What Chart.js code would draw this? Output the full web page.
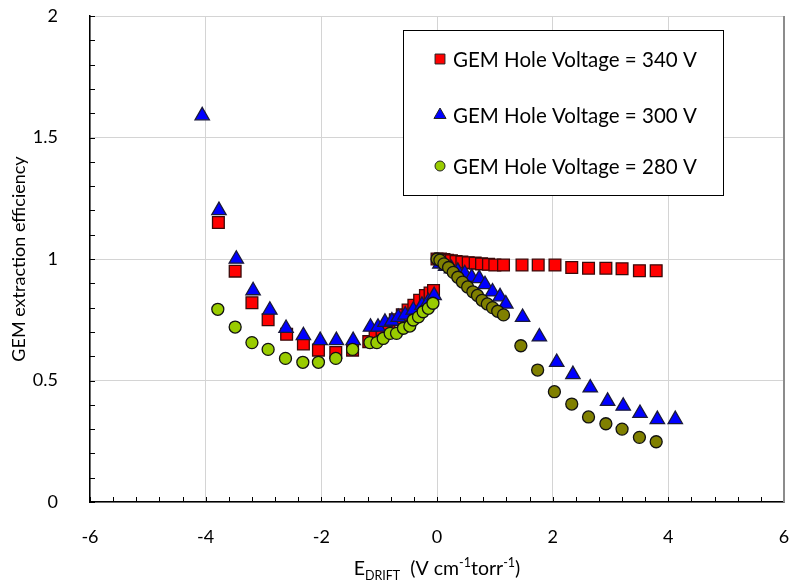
<!DOCTYPE html>
<html>
<head>
<meta charset="utf-8">
<script src="https://cdn.jsdelivr.net/npm/chart.js@4.4.1/dist/chart.umd.min.js"></script>
<style>
  html, body { margin: 0; padding: 0; background: #fff; }
  #wrap { width: 794px; height: 583px; position: relative; }
</style>
</head>
<body>
<div id="wrap"><canvas id="eff" width="794" height="583"></canvas></div>
<script>
// GEM hole voltage 340 V
const hv340X = [-3.78, -3.49, -3.20, -2.92, -2.60, -2.31, -2.05, -1.75, -1.46, -1.18, -1.07, -0.95, -0.83, -0.72, -0.60, -0.50, -0.40, -0.30, -0.20, -0.12, -0.06,
  0.00, 0.06, 0.12, 0.18, 0.25, 0.33, 0.43, 0.54, 0.66, 0.77, 0.89, 1.00, 1.15, 1.47, 1.75, 2.04, 2.33, 2.62, 2.92, 3.20, 3.50, 3.79];
const hv340Y = [1.15, 0.95, 0.82, 0.75, 0.69, 0.65, 0.625, 0.615, 0.625, 0.66, 0.69, 0.71, 0.73, 0.75, 0.77, 0.79, 0.81, 0.83, 0.85, 0.86, 0.87,
  1.0, 1.0, 0.998, 0.995, 0.993, 0.99, 0.988, 0.985, 0.983, 0.98, 0.978, 0.975, 0.975, 0.975, 0.975, 0.975, 0.965, 0.962, 0.962, 0.96, 0.952, 0.952];

// GEM hole voltage 300 V
const hv300X = [-4.06, -3.77, -3.47, -3.18, -2.89, -2.61, -2.31, -2.02, -1.74, -1.45, -1.15, -1.02, -0.90, -0.78, -0.67, -0.55, -0.41, -0.26, -0.15, -0.05,
  0.05, 0.15, 0.25, 0.36, 0.48, 0.60, 0.73, 0.83, 0.96, 1.09, 1.19, 1.48, 1.77, 2.07, 2.35, 2.65, 2.95, 3.22, 3.51, 3.81, 4.12];
const hv300Y = [1.59, 1.20, 1.0, 0.87, 0.79, 0.715, 0.685, 0.665, 0.665, 0.665, 0.72, 0.72, 0.74, 0.745, 0.76, 0.77, 0.79, 0.81, 0.825, 0.85,
  0.98, 0.97, 0.96, 0.95, 0.94, 0.925, 0.92, 0.895, 0.865, 0.845, 0.815, 0.76, 0.68, 0.575, 0.525, 0.47, 0.415, 0.395, 0.365, 0.34, 0.34];

// GEM hole voltage 280 V
const hv280X = [-3.79, -3.49, -3.20, -2.92, -2.62, -2.32, -2.05, -1.75, -1.46, -1.16, -1.04, -0.93, -0.81, -0.70, -0.58, -0.47, -0.41, -0.32, -0.24, -0.15, -0.07,
  0.00, 0.05, 0.12, 0.20, 0.28, 0.36, 0.44, 0.53, 0.62, 0.70, 0.78, 0.87, 0.96, 1.05, 1.15, 1.45, 1.74, 2.03, 2.33, 2.62, 2.92, 3.20, 3.50, 3.79];
const hv280Y = [0.793, 0.72, 0.656, 0.628, 0.591, 0.575, 0.575, 0.591, 0.628, 0.656, 0.656, 0.673, 0.694, 0.694, 0.715, 0.724, 0.749, 0.762, 0.783, 0.797, 0.818,
  1.0, 0.995, 0.98, 0.965, 0.945, 0.925, 0.905, 0.885, 0.865, 0.85, 0.83, 0.815, 0.80, 0.785, 0.77, 0.643, 0.543, 0.454, 0.403, 0.35, 0.322, 0.30, 0.266, 0.248];

const seriesLabels = ['GEM Hole Voltage = 340 V', 'GEM Hole Voltage = 300 V', 'GEM Hole Voltage = 280 V'];
const yTitle = 'GEM extraction efficiency';

const FONT = 'Lato, "Open Sans", sans-serif';

function pts(xs, ys) {
  return xs.map((x, i) => ({ x: x, y: ys[i] }));
}

// inward ticks, right frame line
const frameTicks = {
  id: 'frameTicks',
  beforeDatasetsDraw(chart) {
    const ctx = chart.ctx, a = chart.chartArea;
    const xs = chart.scales.x, ys = chart.scales.y;
    ctx.save();
    ctx.strokeStyle = '#000';
    ctx.lineWidth = 1;
    ctx.beginPath();
    for (let i = 0; i <= 30; i++) {
      const px = Math.round(xs.getPixelForValue(-6 + i * 0.4)) + 0.5;
      ctx.moveTo(px, a.bottom);
      ctx.lineTo(px, a.bottom - 5);
    }
    for (let i = 0; i <= 20; i++) {
      const py = Math.round(ys.getPixelForValue(i * 0.1)) + 0.5;
      ctx.moveTo(a.left, py);
      ctx.lineTo(a.left + 5, py);
    }
    ctx.stroke();
    ctx.strokeStyle = '#8c8c8c';
    ctx.lineWidth = 2;
    ctx.beginPath();
    ctx.moveTo(a.right, a.top);
    ctx.lineTo(a.right, a.bottom);
    ctx.stroke();
    ctx.restore();
  }
};

// boxed legend and x title with sub/superscripts
const extras = {
  id: 'extras',
  afterDraw(chart) {
    const ctx = chart.ctx, a = chart.chartArea;
    const ds = chart.data.datasets;
    ctx.save();
    const bx = a.left + 313, by = a.top + 14;
    ctx.fillStyle = '#fff';
    ctx.fillRect(bx, by, 320, 165);
    ctx.strokeStyle = '#000';
    ctx.lineWidth = 1;
    ctx.strokeRect(bx + 0.5, by + 0.5, 320, 165);
    const rows = [by + 29, by + 85, by + 136];
    const legendColors = ['#ff0000', '#0000ff', '#99cc00'];
    const radii = [7, 7, 5];
    ctx.font = '20.5px ' + FONT;
    ctx.textBaseline = 'middle';
    rows.forEach((ry, i) => {
      ctx.fillStyle = legendColors[i];
      ctx.strokeStyle = '#222';
      Chart.helpers.drawPoint(ctx, { pointStyle: ds[i].pointStyle, radius: radii[i], borderWidth: 1, rotation: 0 }, bx + 37, ry);
      ctx.fillStyle = '#000';
      ctx.fillText(seriesLabels[i], bx + 50, ry + 1);
    });

    // x axis title: E_DRIFT (V cm^-1 torr^-1)
    const parts = [
      ['E', 19.5, 0], ['DRIFT', 12.5, 5], ['  (V cm', 19.5, 0], ['-1', 12.5, -8], ['torr', 19.5, 0], ['-1', 12.5, -8], [')', 19.5, 0]
    ];
    let total = 0;
    parts.forEach(p => { ctx.font = p[1] + 'px ' + FONT; total += ctx.measureText(p[0]).width; });
    let x = (a.left + a.right) / 2 - total / 2;
    const base = 575;
    ctx.fillStyle = '#000';
    ctx.textBaseline = 'alphabetic';
    ctx.textAlign = 'left';
    parts.forEach(p => {
      ctx.font = p[1] + 'px ' + FONT;
      ctx.fillText(p[0], x, base + p[2]);
      x += ctx.measureText(p[0]).width;
    });
    ctx.restore();
  }
};

new Chart(document.getElementById('eff'), {
  type: 'scatter',
  data: {
    datasets: [
      {
        label: seriesLabels[0],
        data: pts(hv340X, hv340Y),
        pointStyle: 'rect',
        pointRadius: 8.3,
        backgroundColor: '#ff0000',
        borderColor: '#3a0a0a',
        borderWidth: 1.3,
        order: 3
      },
      {
        label: seriesLabels[1],
        data: pts(hv300X, hv300Y),
        pointStyle: 'triangle',
        pointRadius: 8.3,
        backgroundColor: '#0000ff',
        borderColor: '#1a1a3a',
        borderWidth: 1.3,
        order: 2
      },
      {
        label: seriesLabels[2],
        data: pts(hv280X, hv280Y),
        pointStyle: 'circle',
        pointRadius: 6,
        backgroundColor: c => (c.raw && c.raw.x >= 0 ? '#808000' : '#99cc00'),
        borderColor: '#111',
        borderWidth: 1.3,
        order: 1
      }
    ]
  },
  options: {
    responsive: false,
    animation: false,
    devicePixelRatio: 1,
    layout: { padding: { top: 16, right: 10, left: 0, bottom: 0 } },
    plugins: {
      legend: { display: false },
      tooltip: { enabled: false }
    },
    scales: {
      x: {
        type: 'linear',
        min: -6,
        max: 6,
        afterFit: s => { s.height = 81; s.paddingLeft = 0; s.paddingRight = 0; },
        ticks: {
          stepSize: 2,
          padding: 24,
          color: '#000',
          font: { family: FONT, size: 18 }
        },
        grid: { color: '#d4d4d4', lineWidth: 1, drawTicks: false },
        border: { color: '#000', width: 1.5 }
      },
      y: {
        min: 0,
        max: 2,
        afterFit: s => { s.width = 90; s.paddingTop = 0; s.paddingBottom = 0; },
        ticks: {
          stepSize: 0.5,
          padding: 32,
          color: '#000',
          font: { family: FONT, size: 18 },
          callback: v => String(v)
        },
        grid: { color: '#d4d4d4', lineWidth: 1, drawTicks: false },
        border: { color: '#000', width: 1.5 },
        title: {
          display: true,
          text: yTitle,
          color: '#000',
          padding: { top: 8, bottom: 0 },
          font: { family: FONT, size: 18 }
        }
      }
    }
  },
  plugins: [frameTicks, extras]
});
</script>
</body>
</html>
